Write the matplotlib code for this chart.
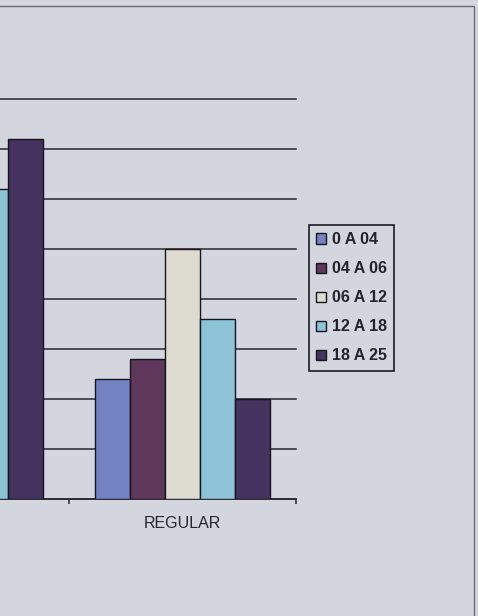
import matplotlib
matplotlib.use("Agg")
import matplotlib.pyplot as plt
from matplotlib.patches import Rectangle
import numpy as np

# Survey answers grouped by rating, one series per age band
categories = ["BOA", "REGULAR"]
age_bands = ["0 A 04", "04 A 06", "06 A 12", "12 A 18", "18 A 25"]
values = {
    "0 A 04":  [30, 24],
    "04 A 06": [38, 28],
    "06 A 12": [55, 50],
    "12 A 18": [62, 36],
    "18 A 25": [72, 20],
}
colors = ["#7382c3", "#5f375a", "#dedcd0", "#8cc3d7", "#46325f"]
y_ticks = [0, 10, 20, 30, 40, 50, 60, 70, 80]

bg = "#d3d6de"
W, H = 478, 616
fig = plt.figure(figsize=(W / 100, H / 100), dpi=100, facecolor=bg)
plt.rcParams["font.family"] = ["Liberation Sans", "DejaVu Sans"]

# plot area: category boundaries at x=69 and x=296 px, baseline at y=499 px
unit = 227
ax_left = 69 - 1.0 * unit
ax = fig.add_axes([ax_left / W, (H - 499) / H, 2 * unit / W, 400 / H])
ax.set_facecolor(bg)

x = np.arange(len(categories))
bw = 35 / unit
for i, band in enumerate(age_bands):
    offs = (i - 2) * bw
    ax.bar(x + offs, values[band], width=bw, color=colors[i],
           edgecolor="#15151c", linewidth=1.0, label=band, zorder=3)

ax.set_xlim(-0.5, 1.5)
ax.set_ylim(0, 80)
ax.set_yticks(y_ticks)
ax.yaxis.grid(True, color="#26262c", linewidth=1.1, zorder=0)
for gl in ax.get_ygridlines():
    gl.set_clip_on(False)
ax.tick_params(axis="y", length=0, labelleft=False)

ax.set_xticks(x)
ax.set_xticklabels(categories, fontsize=11.5, color="#26262a")
# the first category lies left of the visible page
ax.get_xticklabels()[0].set_visible(False)
ax.set_xticks([-0.5, 0.5, 1.5], minor=True)
ax.tick_params(axis="x", which="major", length=0, pad=12)
ax.tick_params(axis="x", which="minor", length=3.5, width=1.1, color="#26262c")

for side in ["top", "right", "left"]:
    ax.spines[side].set_visible(False)
ax.spines["bottom"].set_color("#26262c")
ax.spines["bottom"].set_linewidth(1.1)

leg = ax.legend(loc="upper left", bbox_to_anchor=(309 / W, 1 - 225 / H),
                bbox_transform=fig.transFigure, borderaxespad=0,
                prop={"weight": "bold", "size": 11.5},
                frameon=True, fancybox=False, framealpha=1.0, borderpad=0.45,
                labelspacing=0.88, handlelength=0.6, handleheight=0.6,
                handletextpad=0.4)
leg.get_frame().set_edgecolor("#1c1c22")
leg.get_frame().set_linewidth(1.2)
leg.get_frame().set_facecolor(bg)
for t in leg.get_texts():
    t.set_color("#23232a")

# outer chart border
fig.patches.append(Rectangle((-0.5, -0.5), 474 / W + 0.5, (H - 6) / H + 0.5,
                             transform=fig.transFigure, fill=False,
                             edgecolor="#6a6c74", linewidth=1.0, zorder=0))

fig.savefig("out.png", dpi=100, facecolor=bg)
